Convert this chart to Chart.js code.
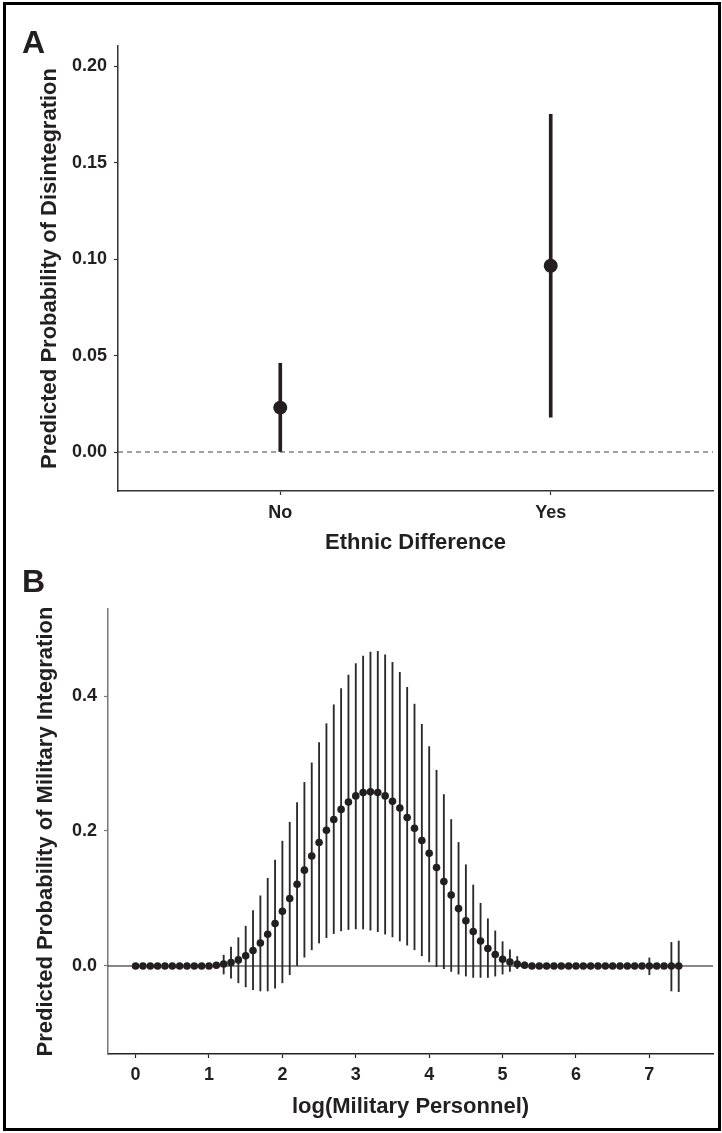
<!DOCTYPE html>
<html>
<head>
<meta charset="utf-8">
<script src="https://cdn.jsdelivr.net/npm/chart.js@4/dist/chart.umd.min.js"></script>
<style>
  body { margin: 0; background: #fff; }
  #wrap { position: relative; width: 722px; height: 1133px; overflow: hidden; }
  canvas { position: absolute; left: 0; }
  .panel { position: absolute; font: bold 32px "Liberation Sans", Arial, sans-serif; line-height: 32px; color: #231f20; }
  #frame { position: absolute; left: 3px; top: 2px; width: 718px; height: 1129px; border: 3px solid #000; box-sizing: border-box; pointer-events: none; }
</style>
</head>
<body>
<div id="wrap">
  <canvas id="chartA" width="722" height="556" style="top:0"></canvas>
  <canvas id="chartB" width="722" height="577" style="top:556px"></canvas>
  <div class="panel" style="left:22px;top:26px">A</div>
  <div class="panel" style="left:22px;top:565px">B</div>
  <div id="frame"></div>
</div>
<script>
// Panel A: ethnic difference
var categoriesA = ["No", "Yes"];
var estimateA = [0.023, 0.0965];
var lowerA = [0.000, 0.018];
var upperA = [0.046, 0.175];
var yTicksA = [0, 0.05, 0.10, 0.15, 0.20];

// Panel B: log(military personnel)
var personnel = [0.0, 0.1, 0.2, 0.3, 0.4, 0.5, 0.6, 0.7, 0.8, 0.9,
  1.0, 1.1, 1.2, 1.3, 1.4, 1.5, 1.6, 1.7, 1.8, 1.9,
  2.0, 2.1, 2.2, 2.3, 2.4, 2.5, 2.6, 2.7, 2.8, 2.9,
  3.0, 3.1, 3.2, 3.3, 3.4, 3.5, 3.6, 3.7, 3.8, 3.9,
  4.0, 4.1, 4.2, 4.3, 4.4, 4.5, 4.6, 4.7, 4.8, 4.9,
  5.0, 5.1, 5.2, 5.3, 5.4, 5.5, 5.6, 5.7, 5.8, 5.9,
  6.0, 6.1, 6.2, 6.3, 6.4, 6.5, 6.6, 6.7, 6.8, 6.9,
  7.0, 7.1, 7.2, 7.3, 7.4];
var estimateB = [0, 0, 0, 0, 0, 0, 0, 0, 0, 0,
  0, 0.001, 0.003, 0.005, 0.009, 0.015, 0.023, 0.034, 0.047, 0.063,
  0.081, 0.100, 0.121, 0.142, 0.163, 0.183, 0.201, 0.217, 0.232, 0.243,
  0.252, 0.257, 0.258, 0.257, 0.252, 0.244, 0.234, 0.220, 0.204, 0.186,
  0.167, 0.146, 0.125, 0.105, 0.085, 0.067, 0.051, 0.037, 0.026, 0.017,
  0.010, 0.006, 0.003, 0.001, 0, 0, 0, 0, 0, 0,
  0, 0, 0, 0, 0, 0, 0, 0, 0, 0,
  0, 0, 0, 0, 0];
var lowerB = [0, 0, 0, 0, 0, 0, 0, 0, 0, 0,
  0, -0.003, -0.012, -0.018, -0.025, -0.031, -0.035, -0.037, -0.037, -0.033,
  -0.025, -0.013, 0.000, 0.013, 0.024, 0.034, 0.042, 0.048, 0.052, 0.054,
  0.055, 0.055, 0.053, 0.051, 0.047, 0.043, 0.037, 0.031, 0.024, 0.015,
  0.006, -0.001, -0.004, -0.008, -0.012, -0.015, -0.017, -0.017, -0.017, -0.015,
  -0.012, -0.008, -0.004, -0.002, 0, 0, 0, 0, 0, 0,
  0, 0, 0, 0, 0, 0, 0, 0, 0, 0,
  -0.013, 0, 0, -0.037, -0.038];
var upperB = [0, 0, 0, 0, 0, 0, 0, 0, 0, 0,
  0, 0.004, 0.016, 0.028, 0.042, 0.059, 0.082, 0.104, 0.130, 0.157,
  0.185, 0.213, 0.242, 0.272, 0.301, 0.331, 0.359, 0.387, 0.411, 0.431,
  0.448, 0.459, 0.465, 0.466, 0.461, 0.450, 0.435, 0.413, 0.388, 0.358,
  0.325, 0.290, 0.254, 0.217, 0.183, 0.150, 0.120, 0.093, 0.070, 0.052,
  0.036, 0.024, 0.014, 0.006, 0, 0, 0, 0, 0, 0,
  0, 0, 0, 0, 0, 0, 0, 0, 0, 0,
  0.012, 0, 0, 0.035, 0.037];
var xTicksB = [0, 1, 2, 3, 4, 5, 6, 7];
var yTicksB = [0, 0.2, 0.4];

var ink = "#231f20";
Chart.defaults.font.family = "'Liberation Sans', Arial, sans-serif";
Chart.defaults.font.weight = "bold";
Chart.defaults.color = ink;

// horizontal reference line at y = 0, drawn under the marks
var zeroLine = {
    id: "zeroLine",
    beforeDatasetsDraw: function (chart, args, opts) {
        var y = chart.scales.y.getPixelForValue(0);
        var ctx = chart.ctx;
        ctx.save();
        ctx.strokeStyle = opts.color;
        ctx.lineWidth = opts.width;
        ctx.setLineDash(opts.dash || []);
        ctx.beginPath();
        ctx.moveTo(chart.chartArea.left, y);
        ctx.lineTo(chart.chartArea.right, y);
        ctx.stroke();
        ctx.restore();
    }
};

function fixedTicks(list) {
    return function (scale) {
        scale.ticks = list.map(function (v) { return { value: v }; });
    };
}

function axis(opts) {
    return {
        type: "linear",
        min: opts.min,
        max: opts.max,
        offset: false,
        afterBuildTicks: fixedTicks(opts.ticks),
        afterFit: function (scale) {
            if (opts.width) scale.width = opts.width;
            if (opts.height) scale.height = opts.height;
        },
        border: { display: true, color: opts.color, width: 1.5 },
        grid: { display: true, offset: false, drawOnChartArea: false, drawTicks: true, tickLength: 4, color: opts.color, tickWidth: 1.2 },
        ticks: { padding: opts.pad, font: { size: 18, weight: "bold" }, color: ink, maxRotation: 0, callback: opts.label },
        title: { display: true, text: opts.title, font: { size: 22, weight: "bold" }, color: ink, padding: 0 }
    };
}

new Chart("chartA", {
    type: "bar",
    data: {
        datasets: [
            {
                type: "scatter",
                order: 0,
                data: categoriesA.map(function (c, i) { return { x: i + 1, y: estimateA[i] }; }),
                pointRadius: 7,
                pointBackgroundColor: ink,
                pointBorderWidth: 0
            },
            {
                order: 1,
                data: categoriesA.map(function (c, i) { return { x: i + 1, y: [lowerA[i], upperA[i]] }; }),
                backgroundColor: ink,
                barThickness: 3
            }
        ]
    },
    options: {
        responsive: false,
        animation: false,
        layout: { padding: { left: 37, top: 46, right: 9, bottom: 0 } },
        scales: {
            x: axis({ min: 0.4, max: 2.6, ticks: [1, 2], height: 65, pad: 7, color: "#333",
                title: "Ethnic Difference",
                label: function (v) { return categoriesA[v - 1]; } }),
            y: axis({ min: -0.0202, max: 0.2104, ticks: yTicksA, width: 81, pad: 7, color: "#333",
                title: "Predicted Probability of Disintegration",
                label: function (v) { return v.toFixed(2); } })
        },
        plugins: {
            legend: { display: false },
            tooltip: { enabled: false },
            zeroLine: { color: "#444", width: 1.2, dash: [5, 4] }
        }
    },
    plugins: [zeroLine]
});

new Chart("chartB", {
    type: "bar",
    data: {
        datasets: [
            {
                type: "scatter",
                order: 0,
                data: personnel.map(function (p, i) { return { x: p, y: estimateB[i] }; }),
                pointRadius: 3.8,
                pointBackgroundColor: ink,
                pointBorderWidth: 0
            },
            {
                order: 1,
                data: personnel.map(function (p, i) { return { x: p, y: [lowerB[i], upperB[i]] }; }),
                backgroundColor: "#2a2a2a",
                barThickness: 1.2
            }
        ]
    },
    options: {
        responsive: false,
        animation: false,
        layout: { padding: { left: 33, top: 53, right: 9, bottom: 13 } },
        scales: {
            x: axis({ min: -0.376, max: 7.867, ticks: xTicksB, height: 66, pad: 6, color: "#222",
                title: "log(Military Personnel)",
                label: function (v) { return String(v); } }),
            y: axis({ min: -0.1304, max: 0.5289, ticks: yTicksB, width: 75, pad: 7, color: "#777",
                title: "Predicted Probability of Military Integration",
                label: function (v) { return v.toFixed(1); } })
        },
        plugins: {
            legend: { display: false },
            tooltip: { enabled: false },
            zeroLine: { color: "#111", width: 1.2 }
        }
    },
    plugins: [zeroLine]
});
</script>
</body>
</html>
